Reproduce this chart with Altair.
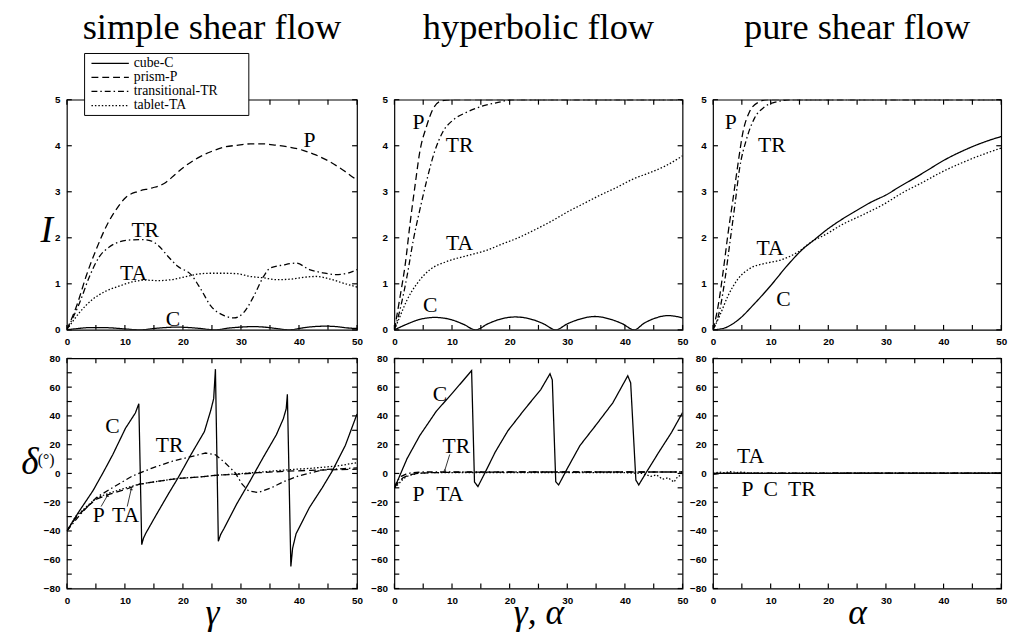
import altair as alt
import pandas as pd

SERIES = ["cube-C", "prism-P", "transitional-TR", "tablet-TA"]
DASHES = [[1, 0], [7, 4], [6, 3, 1.5, 3], [1.5, 2]]
COL_TITLES = ["simple shear flow", "hyperbolic flow", "pure shear flow"]
X_TITLES = ["γ", "γ, α", "α"]
X_LABELS = [0, 10, 20, 30, 40, 50]
X_TICKS = [0, 5, 10, 15, 20, 25, 30, 35, 40, 45, 50]
I_LABELS = [0, 1, 2, 3, 4, 5]
I_TICKS = [0, 1, 2, 3, 4, 5]
D_LABELS = [-80, -60, -40, -20, 0, 20, 40, 60, 80]
D_TICKS = [-80, -70, -60, -50, -40, -30, -20, -10, 0, 10, 20, 30, 40, 50, 60, 70, 80]

# ---------- simple shear flow : I ----------
SS_I_C_X = [0, 2, 4, 6, 8, 10, 12.7, 15, 17, 19, 21, 23, 25.5, 28, 30, 32, 34, 36, 38.3, 40.5, 42.5, 44.5, 46.5, 48.5, 50]
SS_I_C_Y = [0, 0.03, 0.05, 0.05, 0.04, 0.02, 0, 0.03, 0.05, 0.06, 0.05, 0.03, 0, 0.04, 0.06, 0.07, 0.06, 0.03, 0, 0.04, 0.07, 0.08, 0.07, 0.04, 0.03]
SS_I_P_X = [0, 1.9, 3.3, 5.0, 7.0, 8.7, 10.1, 12.3, 14.6, 16.9, 18.6, 20.3, 22.5, 24.8, 27.1, 29.3, 31.6, 33.9, 36.1, 38.4, 40.7, 42.9, 45.2, 47.5, 50]
SS_I_P_Y = [0, 0.6, 1.16, 1.73, 2.3, 2.65, 2.87, 3.01, 3.08, 3.19, 3.37, 3.55, 3.73, 3.87, 3.97, 4.01, 4.04, 4.04, 4.01, 3.97, 3.9, 3.8, 3.66, 3.48, 3.25]
SS_I_TR_X = [0, 2.2, 3.9, 5.6, 7.3, 9.0, 10.6, 12.9, 14.6, 15.7, 17.4, 19.1, 21.4, 23.1, 24.8, 27.1, 28.8, 30.5, 32.2, 33.9, 35.0, 37.3, 39.5, 41.8, 44.1, 46.3, 48.6, 50]
SS_I_TR_Y = [0, 0.59, 1.16, 1.59, 1.8, 1.91, 1.95, 1.96, 1.93, 1.84, 1.6, 1.38, 1.2, 0.88, 0.52, 0.31, 0.26, 0.38, 0.73, 1.16, 1.34, 1.41, 1.45, 1.31, 1.24, 1.2, 1.24, 1.31]
SS_I_TA_X = [0, 2.2, 4.4, 6.7, 9.0, 11.2, 13.5, 15.7, 18.0, 20.3, 22.5, 24.8, 27.1, 29.3, 31.6, 33.9, 36.1, 38.4, 40.7, 42.9, 45.2, 47.5, 50]
SS_I_TA_Y = [0, 0.38, 0.66, 0.84, 0.95, 1.04, 1.08, 1.07, 1.09, 1.15, 1.21, 1.23, 1.23, 1.22, 1.16, 1.13, 1.09, 1.1, 1.14, 1.16, 1.11, 1.02, 0.93]

# ---------- simple shear flow : delta ----------
SS_D_C_X = [0, 2.0, 4.5, 6.3, 7.9, 10.1, 11.8, 12.4, 12.9, 13.2, 13.6, 15.2, 17.5, 19.2, 21.4, 23.7, 24.8, 25.3, 25.6,
            26.1, 26.5, 27.1, 29.3, 31.6, 33.8, 36.1, 37.3, 37.8, 38.0, 38.6, 38.9, 39.5, 41.8, 44.0, 45.7, 48.0, 50]
SS_D_C_Y = [-40, -27, -12, 1, 13, 31.4, 42, 48.5, -49.5, -45, -41.6, -30.2, -14.2, -2.8, 13.2, 29.1, 43.9, 52, 72.5,
            -47.2, -42.5, -38.1, -21, -5, 10.9, 26.9, 38, 45, 55, -64.7, -52, -41.9, -23.7, -10, 1.4, 19.6, 41.3]
SS_D_P_X = [0, 1.5, 3.4, 5.1, 7.4, 10.2, 12.5, 15.9, 19.3, 22.7, 26.2, 29.6, 33.0, 37.6, 42.1, 46.7, 50]
SS_D_P_Y = [-40, -31, -23.5, -17.8, -14.4, -11, -7.5, -5.3, -3.4, -2.5, -1.1, -0.5, 0.5, 1.5, 2.2, 2.6, 3]
SS_D_TR_X = [0, 2.4, 5.1, 7.9, 11.3, 14.8, 18.2, 21.6, 23.9, 25.6, 27.3, 29.0, 30.2, 31.3, 33.0, 35.3, 37.6, 39.9, 42.1, 44.4, 47.8, 50]
SS_D_TR_Y = [-40, -28, -16.7, -9.8, -1.8, 3.9, 8.5, 11.9, 14.2, 13, 7.3, 0.5, -7.5, -12.1, -13.3, -9.8, -5.3, -1.8, 0.5, 2.7, 3.4, 3.9]
SS_D_TA_X = [0, 1.5, 3.4, 5.1, 7.4, 10.2, 12.5, 15.9, 19.3, 22.7, 26.2, 29.6, 33.0, 37.6, 42.1, 46.7, 50]
SS_D_TA_Y = [-40, -30, -23, -17, -13.5, -10, -7.5, -5.3, -3.4, -2.5, -1.1, -0.2, 0.8, 2.4, 3.6, 5.2, 7.5]

# ---------- hyperbolic flow : I ----------
HY_I_C_X = [0, 2.1, 4.2, 7.0, 9.9, 12.0, 14.1, 16.2, 18.3, 21.0, 23.8, 25.9, 28.0, 30.0, 32.1, 34.8, 37.5, 39.6, 41.6, 43.4, 45.4, 47.5, 50]
HY_I_C_Y = [0, 0.12, 0.22, 0.27, 0.22, 0.12, 0, 0.13, 0.23, 0.28, 0.23, 0.13, 0, 0.13, 0.23, 0.29, 0.23, 0.13, 0, 0.15, 0.26, 0.31, 0.26]
HY_I_P_X = [0, 1.0, 1.9, 2.7, 3.6, 4.4, 5.6, 6.7, 8.1, 10, 50]
HY_I_P_Y = [0, 0.73, 1.44, 2.29, 3.15, 3.86, 4.43, 4.8, 4.97, 5, 5]
HY_I_TR_X = [0, 1.0, 2.2, 3.3, 4.4, 5.6, 7.0, 8.4, 10.1, 12.4, 15.2, 18, 20.3, 50]
HY_I_TR_Y = [0, 0.45, 1.17, 1.96, 2.6, 3.24, 3.88, 4.3, 4.55, 4.72, 4.86, 4.94, 5, 5]
HY_I_TA_X = [0, 1.0, 2.2, 3.9, 6.1, 9.0, 12.9, 15.8, 18.6, 21.5, 24.3, 27.1, 30, 32.8, 35.6, 38.5, 41.3, 44.2, 47, 50]
HY_I_TA_Y = [0, 0.3, 0.65, 1.0, 1.3, 1.48, 1.62, 1.72, 1.86, 2.0, 2.17, 2.35, 2.56, 2.74, 2.92, 3.09, 3.27, 3.41, 3.56, 3.78]

# ---------- hyperbolic flow : delta ----------
HY_D_C_X = [0, 2.2, 4.4, 7.3, 10.1, 13.4, 13.9, 14.5, 15.8, 17.5, 19.7, 22.6, 25.4, 27.0, 27.4, 28.0, 28.5, 30.0, 32.2,
            35.1, 37.9, 40.5, 41.0, 41.9, 42.4, 43.6, 45.9, 48.1, 50]
HY_D_C_Y = [-10.3, 10.3, 26.3, 43.4, 56, 71.5, -6, -9.1, 1.1, 14.9, 29.7, 44.6, 58.3, 69.3, 65, -5.7, -8, 3.4, 19.4,
            34.3, 49.1, 67.9, 62.9, -4.6, -8, 0, 14.9, 28.6, 42.3]
HY_D_P_X = [0, 0.7, 1.5, 2.5, 4, 6, 10, 20, 30, 40, 50]
HY_D_P_Y = [-10, -6, -3, -1, 0, 0.5, 0.8, 1, 1, 1, 1]
HY_D_TR_X = [0, 0.5, 1.2, 2, 3, 5, 8, 15, 25, 35, 45, 50]
HY_D_TR_Y = [-10, -5, -2, -0.5, 0.5, 1, 1, 1, 1, 1, 1, 1]
HY_D_TA_X = [0, 0.8, 1.6, 2.5, 4, 6, 10, 20, 30, 40, 43, 44.5, 45.5, 46.5, 47.5, 48.5, 49.2, 50]
HY_D_TA_Y = [-10, -7, -3.5, -1.5, 0, 0.5, 0.5, 0.5, 0.5, 0.5, 0, -2, -1, -4, -3, -6, -2, -1]

# ---------- pure shear flow : I ----------
PS_I_C_X = [0, 2, 4.3, 7.2, 10, 12.9, 15.8, 17.3, 20, 22.6, 25, 27.5, 30, 32.5, 35, 37.5, 40, 42.5, 45, 47.5, 50]
PS_I_C_Y = [0, 0.04, 0.21, 0.57, 0.96, 1.4, 1.78, 1.93, 2.2, 2.42, 2.6, 2.78, 2.93, 3.12, 3.3, 3.49, 3.68, 3.84, 3.98, 4.1, 4.2]
PS_I_P_X = [0, 0.9, 1.8, 2.6, 3.5, 4.3, 5.2, 6.3, 7.8, 9.5, 50]
PS_I_P_Y = [0, 0.53, 1.31, 2.09, 2.87, 3.58, 4.3, 4.73, 4.94, 5, 5]
PS_I_TR_X = [0, 1.2, 2.05, 2.9, 3.8, 4.6, 5.8, 7.2, 8.9, 11.2, 13.5, 50]
PS_I_TR_Y = [0, 0.45, 1.08, 1.87, 2.72, 3.5, 4.14, 4.6, 4.84, 4.96, 5, 5]
PS_I_TA_X = [0, 1.2, 2.6, 4.3, 6.6, 8.9, 11.8, 14.6, 17.3, 19.2, 22.6, 26, 29.5, 32.9, 36.3, 39.7, 43.2, 46.6, 50]
PS_I_TA_Y = [0, 0.32, 0.74, 1.1, 1.35, 1.44, 1.52, 1.68, 1.93, 2.05, 2.3, 2.5, 2.72, 2.98, 3.2, 3.43, 3.63, 3.8, 3.95]

# ---------- pure shear flow : delta ----------
PS_D_C_X = [0, 50]
PS_D_C_Y = [0, 0.3]
PS_D_P_X = [0, 1, 3, 50]
PS_D_P_Y = [-0.5, 0, 0, 0]
PS_D_TR_X = [0, 2, 50]
PS_D_TR_Y = [-0.5, 0.2, 0.2]
PS_D_TA_X = [0, 1, 2, 3, 4, 5, 6, 8, 50]
PS_D_TA_Y = [0, 1, 0.5, 1.2, 0.6, 1, 0.4, 0.2, 0.2]

# ---------- curve labels ----------
SS_I_LBL = ["P", "TR", "TA", "C"]
SS_I_LBL_X = [41.8, 13.5, 11.5, 18.3]
SS_I_LBL_Y = [4.12, 2.16, 1.23, 0.24]
SS_D_LBL = ["C", "TR", "P", "TA"]
SS_D_LBL_X = [7.85, 17.7, 5.5, 10.1]
SS_D_LBL_Y = [32.6, 20, -29, -29]
SS_D_ARROW_X = [5.9, 10.4]
SS_D_ARROW_Y = [-23, -23]
SS_D_ARROW_X2 = [7.0, 11.1]
SS_D_ARROW_Y2 = [-15.3, -10.7]
HY_I_LBL = ["P", "TR", "TA", "C"]
HY_I_LBL_X = [4.2, 11.3, 11.3, 6.2]
HY_I_LBL_Y = [4.52, 4.02, 1.88, 0.53]
HY_D_LBL = ["C", "TR", "P", "TA"]
HY_D_LBL_X = [7.9, 10.75, 4.2, 9.6]
HY_D_LBL_Y = [55.4, 18.9, -14.1, -14.1]
HY_D_ARROW_X = [9.6]
HY_D_ARROW_Y = [13.2]
HY_D_ARROW_X2 = [8.76]
HY_D_ARROW_Y2 = [2.3]
PS_I_LBL = ["P", "TR", "TA", "C"]
PS_I_LBL_X = [3.07, 10.2, 9.9, 12.2]
PS_I_LBL_Y = [4.52, 4.02, 1.77, 0.67]
PS_D_LBL = ["TA", "P", "C", "TR"]
PS_D_LBL_X = [6.5, 6.0, 10.0, 15.4]
PS_D_LBL_Y = [12.1, -10.7, -10.7, -10.7]

SERIF = "Liberation Serif"
SANS = "Liberation Sans"
H = 234
WIDTHS = [295, 293, 293]


def series_df(items):
    rows = []
    for name, xs, ys in items:
        for i, (x, y) in enumerate(zip(xs, ys)):
            rows.append({"series": name, "x": x, "y": y, "i": i})
    return pd.DataFrame(rows)


def dash_enc():
    return alt.StrokeDash("series:N", scale=alt.Scale(domain=SERIES, range=DASHES), legend=None)


def legend_layers():
    # box (drawn above the frame), dash samples and names of the four series
    box = alt.Chart(pd.DataFrame({"b": [0]})).mark_rect(
        fill="white", stroke="black", strokeWidth=1
    ).encode(x=alt.value(18), x2=alt.value(185), y=alt.value(-47), y2=alt.value(16))
    rows = alt.Chart(pd.DataFrame({"series": SERIES, "row": list(range(len(SERIES)))})).transform_calculate(
        py="-37 + 14.3 * datum.row"
    )
    samples = rows.mark_rule(color="black", strokeWidth=1.3).encode(
        x=alt.value(25), x2=alt.value(63), y=alt.Y("py:Q", scale=None), strokeDash=dash_enc()
    )
    names = rows.mark_text(font=SERIF, fontSize=14, color="black", align="left", baseline="middle").encode(
        x=alt.value(68), y=alt.Y("py:Q", scale=None), text="series:N"
    )
    return [box, samples, names]


def panel(items, kind, lbl, lbl_x, lbl_y, width, xtitle=None, ytitle=None, ytitle_xy=None,
          col_title=None, legend=False, arrows=None, deg=False):
    if kind == "I":
        ydom, ylab, ytick, interp = [0, 5], I_LABELS, I_TICKS, "monotone"
    else:
        ydom, ylab, ytick, interp = [-80, 80], D_LABELS, D_TICKS, "linear"
    xsc = alt.Scale(domain=[0, 50], nice=False, zero=False)
    ysc = alt.Scale(domain=ydom, nice=False, zero=False)

    xax = dict(values=X_LABELS, labelFlush=False, labelPadding=7, labelOverlap=False)
    if xtitle:
        xax.update(titleFont=SERIF, titleFontSize=36, titleFontStyle="italic", titleFontWeight="normal",
                   titleBaseline="alphabetic", titlePadding=19, titleColor="black")
    yax = dict(values=ylab, labelPadding=7, labelOverlap=False, labelFlush=False)
    if ytitle:
        yax.update(titleFont=SERIF, titleFontSize=38, titleFontStyle="italic", titleFontWeight="normal",
                   titleAngle=0, titleAlign="center", titleBaseline="middle", titleX=ytitle_xy[0],
                   titleY=ytitle_xy[1], titleColor="black")

    def X(field):
        return alt.X(field, type="quantitative", scale=xsc, axis=alt.Axis(**xax), title=xtitle)

    def Y(field):
        return alt.Y(field, type="quantitative", scale=ysc, axis=alt.Axis(**yax), title=ytitle)

    lines = alt.Chart(series_df(items)).mark_line(
        color="black", strokeWidth=1.3, interpolate=interp, clip=True
    ).encode(x=X("x"), y=Y("y"), strokeDash=dash_enc(), order="i:Q")

    xt = alt.Chart(pd.DataFrame({"x": X_TICKS}))
    yt = alt.Chart(pd.DataFrame({"y": ytick}))
    tick_b = xt.mark_rule(color="black", strokeWidth=1.2).encode(x=X("x"), y=alt.value(H), y2=alt.value(H - 5))
    tick_t = xt.mark_rule(color="black", strokeWidth=1.2).encode(x=X("x"), y=alt.value(0), y2=alt.value(5))
    tick_l = yt.mark_rule(color="black", strokeWidth=1.2).encode(y=Y("y"), x=alt.value(0), x2=alt.value(5))
    tick_r = yt.mark_rule(color="black", strokeWidth=1.2).encode(y=Y("y"), x=alt.value(width), x2=alt.value(width - 5))

    labels = alt.Chart(pd.DataFrame({"t": lbl, "x": lbl_x, "y": lbl_y})).mark_text(
        font=SERIF, fontSize=22, color="black"
    ).encode(x=X("x"), y=Y("y"), text="t:N")

    layers = [lines, tick_b, tick_t, tick_l, tick_r, labels]
    if arrows:
        ax_, ay_, ax2_, ay2_ = arrows
        arr = alt.Chart(pd.DataFrame({"x": ax_, "y": ay_, "x2": ax2_, "y2": ay2_})).mark_rule(
            color="black", strokeWidth=0.8
        ).encode(x=X("x"), y=Y("y"), x2="x2:Q", y2="y2:Q")
        head = alt.Chart(pd.DataFrame({"x": ax2_, "y": ay2_})).mark_point(
            shape="triangle-up", size=12, filled=True, color="black"
        ).encode(x=X("x"), y=Y("y"))
        layers += [arr, head]
    if col_title:
        layers.append(alt.Chart(pd.DataFrame({"t": [col_title]})).mark_text(
            font=SERIF, fontSize=37, color="black", baseline="alphabetic", align="center"
        ).encode(x=alt.value(width / 2), y=alt.value(-62), text="t:N"))
    if deg:
        layers.append(alt.Chart(pd.DataFrame({"t": ["(°)"]})).mark_text(
            font=SERIF, fontSize=16, color="black", baseline="middle", align="center"
        ).encode(x=alt.value(-21), y=alt.value(103), text="t:N"))
    if legend:
        layers += legend_layers()
    return alt.layer(*layers).properties(width=width, height=H)


def items(prefix):
    g = globals()
    return [
        ("cube-C", g[prefix + "_C_X"], g[prefix + "_C_Y"]),
        ("prism-P", g[prefix + "_P_X"], g[prefix + "_P_Y"]),
        ("transitional-TR", g[prefix + "_TR_X"], g[prefix + "_TR_Y"]),
        ("tablet-TA", g[prefix + "_TA_X"], g[prefix + "_TA_Y"]),
    ]


p_ss_i = panel(items("SS_I"), "I", SS_I_LBL, SS_I_LBL_X, SS_I_LBL_Y, WIDTHS[0], ytitle="I",
               ytitle_xy=(-21, 133), col_title=COL_TITLES[0], legend=True)
p_ss_d = panel(items("SS_D"), "D", SS_D_LBL, SS_D_LBL_X, SS_D_LBL_Y, WIDTHS[0], xtitle=X_TITLES[0],
               ytitle="δ", ytitle_xy=(-38, 106), deg=True,
               arrows=(SS_D_ARROW_X, SS_D_ARROW_Y, SS_D_ARROW_X2, SS_D_ARROW_Y2))
p_hy_i = panel(items("HY_I"), "I", HY_I_LBL, HY_I_LBL_X, HY_I_LBL_Y, WIDTHS[1], col_title=COL_TITLES[1])
p_hy_d = panel(items("HY_D"), "D", HY_D_LBL, HY_D_LBL_X, HY_D_LBL_Y, WIDTHS[1], xtitle=X_TITLES[1],
               arrows=(HY_D_ARROW_X, HY_D_ARROW_Y, HY_D_ARROW_X2, HY_D_ARROW_Y2))
p_ps_i = panel(items("PS_I"), "I", PS_I_LBL, PS_I_LBL_X, PS_I_LBL_Y, WIDTHS[2], col_title=COL_TITLES[2])
p_ps_d = panel(items("PS_D"), "D", PS_D_LBL, PS_D_LBL_X, PS_D_LBL_Y, WIDTHS[2], xtitle=X_TITLES[2])

cols = [alt.vconcat(top, bot, spacing=5)
        for top, bot in [(p_ss_i, p_ss_d), (p_hy_i, p_hy_d), (p_ps_i, p_ps_d)]]

left_pair = alt.hconcat(cols[0], cols[1], spacing=6)
chart = alt.hconcat(left_pair, cols[2], spacing=-1).properties(
    padding={"left": 20, "top": 3, "right": 5, "bottom": 5}, background="white"
).configure_view(stroke="black", strokeWidth=1.2).configure_axis(
    domain=False, ticks=False, tickSize=0, grid=False, labelFont=SANS, labelFontWeight="bold",
    labelFontSize=10, labelColor="black"
)

chart.save("out.html", embed_options={"renderer": "svg", "actions": False})
